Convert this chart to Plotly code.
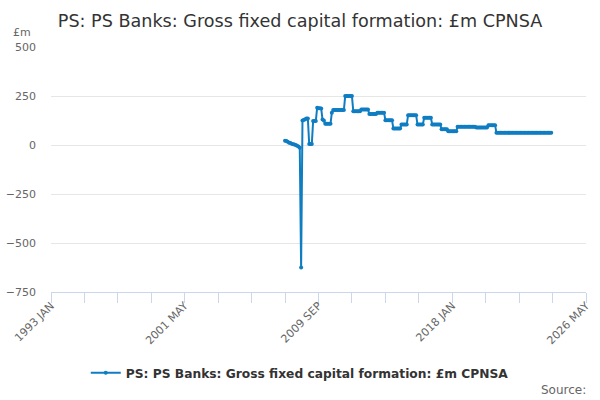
import pandas as pd
import plotly.graph_objects as go

TITLE = "PS: PS Banks: Gross fixed capital formation: £m CPNSA"

# monthly series, Aug 2007 .. Mar 2024
START = "2007-08-01"
values = [
    22, 20, 16, 12, 10, 7, 4, 2, 0, -4, -8, -14,
    -625,
    125, 128, 132, 135, 135,
    5, 5, 5,
    122, 122, 122,
    190, 188, 188, 186,
    130, 125,
    108, 108, 108, 108, 108,
    165,
    178, 178, 178, 178, 178, 178, 178, 178, 178,
    250, 250, 250, 250, 250, 250,
    172, 172, 172, 172, 172, 172,
    181, 181, 181, 181, 181, 181,
    158, 158, 158, 158, 158, 158,
    165, 165, 165, 165, 165, 165,
    126, 126, 126, 126, 126, 126,
    84, 84, 84, 84, 84, 84,
    104, 104, 104, 104, 104,
    152, 152, 152, 152, 152, 152, 152,
    104, 104, 104, 104, 104,
    139, 139, 139, 139, 139, 139,
    105, 105, 105, 105, 105, 105, 105,
    80, 80, 80, 80, 80,
    70, 70, 70, 70, 70, 70, 70,
    93, 93, 93, 93, 93, 93, 93, 93, 93, 93, 93, 93, 93, 93,
    89, 89, 89, 89, 89, 89, 89, 89, 89,
    101, 101, 101, 101, 101, 101,
    62, 62, 62, 62, 62, 62, 62, 62, 62, 62, 62, 62, 62, 62,
    62, 62, 62, 62, 62, 62, 62, 62, 62, 62, 62, 62, 62, 62,
    62, 62, 62, 62, 62, 62, 62, 62, 62, 62, 62, 62, 62, 62,
]
dates = pd.date_range(START, periods=len(values), freq="MS")

# x axis: tick every 25 months, label every 100
tick_dates = pd.date_range("1993-01-01", "2026-05-01", freq="25MS")
tick_labels = ["1993 JAN", "2001 MAY", "2009 SEP", "2018 JAN", "2026 MAY"]
ticktext = []
k = 0
for n in range(len(tick_dates)):
    if n % 4 == 0:
        ticktext.append(tick_labels[k])
        k += 1
    else:
        ticktext.append("")

y_ticks = [-750, -500, -250, 0, 250, 500]

BLUE = "#0f7dc2"
FONT = "DejaVu Sans"

fig = go.Figure()
fig.add_trace(go.Scatter(
    x=dates,
    y=values,
    mode="lines+markers",
    name=TITLE,
    line=dict(color=BLUE, width=2),
    marker=dict(color=BLUE, size=4),
))

fig.update_xaxes(
    range=[tick_dates[0], tick_dates[-1]],
    tickmode="array",
    tickvals=tick_dates,
    ticktext=ticktext,
    tickangle=-45,
    ticks="outside",
    ticklen=10,
    tickcolor="#ccd6eb",
    showline=True,
    linecolor="#ccd6eb",
    linewidth=1,
    showgrid=False,
    zeroline=False,
    automargin=False,
    ticklabelstandoff=-8,
    tickfont=dict(size=11, color="#666666"),
)

fig.update_yaxes(
    range=[-750, 500],
    tickvals=y_ticks,
    showgrid=True,
    gridcolor="#e6e6e6",
    zeroline=False,
    automargin=False,
    ticklabelstandoff=14,
    tickfont=dict(size=11, color="#666666"),
)

fig.update_layout(
    width=600,
    height=400,
    font=dict(family=FONT, color="#333333"),
    title=dict(text=TITLE, x=0.5, xanchor="center", y=0.948, yanchor="middle",
               font=dict(size=17.6, color="#333333")),
    plot_bgcolor="white",
    paper_bgcolor="white",
    margin=dict(l=51, r=14, t=47, b=108, autoexpand=False),
    showlegend=True,
    legend=dict(orientation="h", x=0.465, xanchor="center", y=-0.33, yanchor="middle",
                font=dict(size=12.25, color="#333333", weight="bold"), itemwidth=30),
    annotations=[
        dict(text="£m", xref="paper", yref="paper", x=-0.074, y=1.061,
             xanchor="left", yanchor="middle", showarrow=False,
             font=dict(size=11, color="#666666")),
        dict(text="Source:", xref="paper", yref="paper", x=1.004, y=-0.4,
             xanchor="right", yanchor="middle", showarrow=False,
             font=dict(size=12, color="#666666")),
    ],
)

fig.write_html("out.html", config={"displayModeBar": False},
               post_script="document.body.style.margin='0px';")
